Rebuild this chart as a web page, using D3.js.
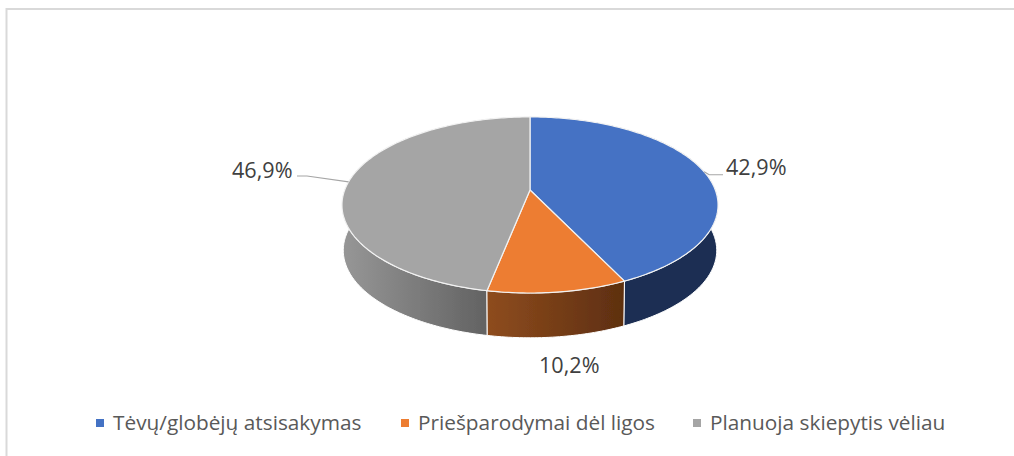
<!DOCTYPE html>
<meta charset="utf-8">
<style>
  html, body { margin: 0; background: #fff; }
  svg { display: block; }
  .legend text { font: 20.8px "Open Sans", sans-serif; fill: #595959; }
  .label { font: 21.6px "Open Sans", sans-serif; fill: #404040; }
</style>
<body>
  <svg width="1014" height="456"></svg>
</body>
<script src="https://d3js.org/d3.v7.min.js"></script>
<script>
  var categories = ["Tėvų/globėjų atsisakymas", "Priešparodymai dėl ligos", "Planuoja skiepytis vėliau"];
  var shares = [42.9, 10.2, 46.9];
  var labels = ["42,9%", "10,2%", "46,9%"];
  var topColors = ["#4472c4", "#ed7d31", "#a5a5a5"];
  var sideColors = [["#1a2d52", "#1a2d52"], ["#8e4c1e", "#5e2f10"], ["#969696", "#626262"]];

  var svg = d3.select("svg");

  // tilt of the disc: far edge is squeezed, near edge stretched
  var tilt = -0.17;
  var sx = d3.scaleLinear().domain([-1, 1]).range([530 - 185.3, 530 + 185.3]);
  var sy = d3.scaleLinear().domain([-1, 1]).range([190 - 85.5, 190 + 85.5]);
  var depth = 45.5, bottomScale = 0.993;

  function project(a, lower) {
    var w = 1 - tilt * Math.cos(a);
    var k = lower ? bottomScale : 1;
    return [
      sx(0) + (sx(Math.sin(a) / w) - sx(0)) * k,
      sy(0) + (sy(-Math.cos(a) / w) - sy(0)) * k + (lower ? depth : 0)
    ];
  }

  function arcAngles(d) {
    var n = Math.ceil((d.endAngle - d.startAngle) * 60);
    return d3.range(n + 1).map(function (i) {
      return d.startAngle + (d.endAngle - d.startAngle) * i / n;
    });
  }

  var line = d3.line();
  var slices = d3.pie().sort(null)(shares);

  // frame, only top and left are there
  svg.append("path")
    .attr("d", "M6.5,456V9H1014")
    .attr("fill", "none")
    .attr("stroke", "#d9d9d9")
    .attr("stroke-width", 2);

  var defs = svg.append("defs");
  defs.append("filter").attr("id", "soft")
    .append("feGaussianBlur").attr("stdDeviation", 0.5);

  slices.forEach(function (d, i) {
    var grad = defs.append("linearGradient")
      .attr("id", "side" + i)
      .attr("gradientUnits", "userSpaceOnUse")
      .attr("x1", i == 2 ? sx(-1) : project(d.endAngle, true)[0])
      .attr("x2", project(d.startAngle, true)[0])
      .attr("y1", 0).attr("y2", 0);
    grad.append("stop").attr("offset", 0).attr("stop-color", sideColors[i][0]);
    grad.append("stop").attr("offset", 1).attr("stop-color", sideColors[i][1]);
  });

  var pie = svg.append("g").attr("filter", "url(#soft)");

  // sides first, the top face covers whatever is hidden
  [2, 0, 1].forEach(function (i) {
    var ang = arcAngles(slices[i]);
    var pts = ang.map(function (a) { return project(a, false); })
      .concat(ang.slice().reverse().map(function (a) { return project(a, true); }));
    pie.append("path")
      .attr("d", line(pts) + "Z")
      .attr("fill", "url(#side" + i + ")")
      .attr("stroke", "#fff")
      .attr("stroke-width", 1);
  });

  slices.forEach(function (d, i) {
    var pts = [[sx(0), sy(0)]].concat(arcAngles(d).map(function (a) { return project(a, false); }));
    pie.append("path")
      .attr("d", line(pts) + "Z")
      .attr("fill", topColors[i])
      .attr("stroke", "#f2f2f2")
      .attr("stroke-width", 1.2)
      .attr("stroke-linejoin", "round");
  });

  // leader lines start at the middle of the slice rim
  function mid(d) { return (d.startAngle + d.endAngle) / 2; }
  var p0 = project(mid(slices[0]), false), p2 = project(mid(slices[2]), false);
  svg.append("path")
    .attr("d", line([p0, [p0[0] + 5, p0[1] + 3], [723, p0[1] + 3]]))
    .attr("fill", "none").attr("stroke", "#a6a6a6").attr("stroke-width", 1.2);
  svg.append("path")
    .attr("d", line([[297, 176], [307, 176], p2]))
    .attr("fill", "none").attr("stroke", "#a6a6a6").attr("stroke-width", 1.2);

  var labelPos = [[726, 175], [539, 373], [232, 178]];
  labels.forEach(function (t, i) {
    svg.append("text").attr("class", "label")
      .attr("x", labelPos[i][0]).attr("y", labelPos[i][1])
      .text(t);
  });

  // legend
  var legendX = [96, 401, 693];
  var legend = svg.append("g").attr("class", "legend");
  categories.forEach(function (c, i) {
    legend.append("rect")
      .attr("x", legendX[i]).attr("y", 419)
      .attr("width", 8).attr("height", 8)
      .attr("fill", topColors[i]);
    legend.append("text")
      .attr("x", legendX[i] + 17).attr("y", 430)
      .text(c);
  });
</script>
